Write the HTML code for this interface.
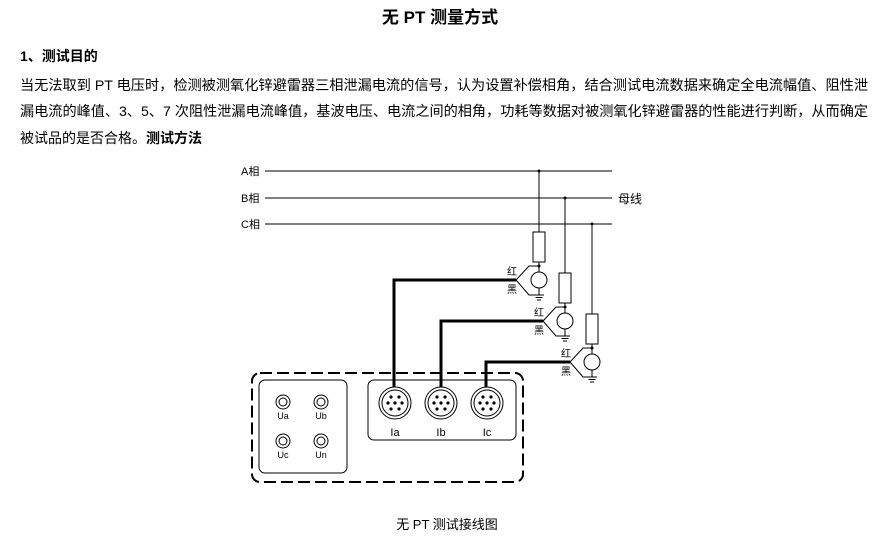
<!DOCTYPE html>
<html><head><meta charset="utf-8"><style>
html,body{margin:0;padding:0;background:#fff;width:878px;height:547px;overflow:hidden}
svg{display:block}
text{font-family:"Liberation Sans","Noto Sans CJK SC","WenQuanYi Zen Hei",sans-serif;fill:#000}
.s{font-family:"Liberation Serif","Noto Serif CJK SC","Noto Sans CJK SC",serif}
</style></head><body>
<svg width="878" height="547" viewBox="0 0 878 547" xmlns="http://www.w3.org/2000/svg">
<text x="440" y="23" font-size="17" font-weight="bold" text-anchor="middle">无 PT 测量方式</text>
<text x="20" y="61" font-size="14" font-weight="bold">1、测试目的</text>
<text x="20" y="90" font-size="14" textLength="848" lengthAdjust="spacingAndGlyphs">当无法取到 PT 电压时，检测被测氧化锌避雷器三相泄漏电流的信号，认为设置补偿相角，结合测试电流数据来确定全电流幅值、阻性泄</text>
<text x="20" y="116" font-size="14" textLength="848" lengthAdjust="spacingAndGlyphs">漏电流的峰值、3、5、7 次阻性泄漏电流峰值，基波电压、电流之间的相角，功耗等数据对被测氧化锌避雷器的性能进行判断，从而确定</text>
<text x="20" y="143" font-size="14">被试品的是否合格。<tspan font-weight="bold">测试方法</tspan></text>

<g stroke="#000" fill="none" stroke-width="1">
<line x1="265" y1="171" x2="612" y2="171"/>
<line x1="265" y1="198" x2="612" y2="198"/>
<line x1="265" y1="224" x2="612" y2="224"/>
</g>
<g font-size="11" class="s">
<text x="241" y="175">A相</text><text x="241" y="202">B相</text><text x="241" y="228">C相</text>
<text x="618" y="203" font-size="12">母线</text>
</g>

<!-- phase branches -->
<g id="ph" stroke="#000" fill="none" stroke-width="1">
</g>
<g stroke="#000" fill="none" stroke-width="1">
<!-- A -->
<line x1="539" y1="171" x2="539" y2="232"/><rect x="533" y="232" width="12" height="30"/>
<line x1="539" y1="262" x2="539" y2="272"/><circle cx="539" cy="280" r="8"/>
<line x1="539" y1="288" x2="539" y2="295"/>
<polyline points="539,266 529,266 516,280 529,295 539,295"/>
<line x1="534" y1="295" x2="544" y2="295"/><line x1="535.5" y1="297.5" x2="542.5" y2="297.5"/><line x1="537" y1="300" x2="541" y2="300"/>
<!-- B -->
<line x1="565" y1="198" x2="565" y2="273"/><rect x="559" y="273" width="12" height="30"/>
<line x1="565" y1="303" x2="565" y2="313"/><circle cx="565" cy="321" r="8"/>
<line x1="565" y1="329" x2="565" y2="336"/>
<polyline points="565,307 556,307 543,321 556,336 565,336"/>
<line x1="560" y1="336" x2="570" y2="336"/><line x1="561.5" y1="338.5" x2="568.5" y2="338.5"/><line x1="563" y1="341" x2="567" y2="341"/>
<!-- C -->
<line x1="592" y1="224" x2="592" y2="314"/><rect x="586" y="314" width="12" height="30"/>
<line x1="592" y1="344" x2="592" y2="354"/><circle cx="592" cy="362" r="8"/>
<line x1="592" y1="370" x2="592" y2="377"/>
<polyline points="592,348 583,348 570,362 583,377 592,377"/>
<line x1="587" y1="377" x2="597" y2="377"/><line x1="588.5" y1="379.5" x2="595.5" y2="379.5"/><line x1="590" y1="382" x2="594" y2="382"/>
</g>
<g fill="#000">
<circle cx="539" cy="171" r="1.5"/><circle cx="565" cy="198" r="1.5"/><circle cx="592" cy="224" r="1.5"/>
<circle cx="539" cy="266" r="1.5"/><circle cx="565" cy="307" r="1.5"/><circle cx="592" cy="348" r="1.5"/>
</g>
<g font-size="10" class="s">
<text x="507" y="275">红</text><text x="507" y="293">黑</text>
<text x="534" y="316">红</text><text x="534" y="334">黑</text>
<text x="561" y="357">红</text><text x="561" y="375">黑</text>
</g>
<g stroke="#000" fill="none" stroke-width="3">
<polyline points="516,280 394,280 394,387"/>
<polyline points="543,321 441,321 441,387"/>
<polyline points="570,362 486,362 486,387"/>
</g>

<!-- instrument -->
<rect x="252" y="373" width="271" height="109" rx="8" fill="none" stroke="#000" stroke-width="2" stroke-dasharray="12,5"/>
<rect x="259" y="380" width="88" height="93" rx="6" fill="none" stroke="#000"/>
<rect x="368" y="380" width="148" height="60" rx="6" fill="none" stroke="#000"/>
<g stroke="#000" fill="none">
<circle cx="283" cy="402" r="7"/><circle cx="283" cy="402" r="4"/>
<circle cx="321" cy="402" r="7"/><circle cx="321" cy="402" r="4"/>
<circle cx="283" cy="441" r="7"/><circle cx="283" cy="441" r="4"/>
<circle cx="321" cy="441" r="7"/><circle cx="321" cy="441" r="4"/>
<circle cx="395" cy="403" r="16"/><circle cx="395" cy="403" r="13"/>
<circle cx="441" cy="403" r="16"/><circle cx="441" cy="403" r="13"/>
<circle cx="487" cy="403" r="16"/><circle cx="487" cy="403" r="13"/>
</g>
<g fill="#000">
<g transform="translate(395,403)"><circle cx="-4" cy="-6" r="1.6"/><circle cx="4" cy="-6" r="1.6"/><circle cx="-7" cy="0" r="1.6"/><circle cx="0" cy="0" r="1.6"/><circle cx="7" cy="0" r="1.6"/><circle cx="-4" cy="6" r="1.6"/><circle cx="4" cy="6" r="1.6"/></g>
<g transform="translate(441,403)"><circle cx="-4" cy="-6" r="1.6"/><circle cx="4" cy="-6" r="1.6"/><circle cx="-7" cy="0" r="1.6"/><circle cx="0" cy="0" r="1.6"/><circle cx="7" cy="0" r="1.6"/><circle cx="-4" cy="6" r="1.6"/><circle cx="4" cy="6" r="1.6"/></g>
<g transform="translate(487,403)"><circle cx="-4" cy="-6" r="1.6"/><circle cx="4" cy="-6" r="1.6"/><circle cx="-7" cy="0" r="1.6"/><circle cx="0" cy="0" r="1.6"/><circle cx="7" cy="0" r="1.6"/><circle cx="-4" cy="6" r="1.6"/><circle cx="4" cy="6" r="1.6"/></g>
</g>
<g font-size="9" class="s" text-anchor="middle">
<text x="283" y="419">Ua</text><text x="321" y="419">Ub</text>
<text x="283" y="458">Uc</text><text x="321" y="458">Un</text>
</g>
<g font-size="11" class="s" text-anchor="middle">
<text x="395" y="436">Ia</text><text x="441" y="436">Ib</text><text x="487" y="436">Ic</text>
</g>
<text x="447" y="529" font-size="13" text-anchor="middle">无 PT 测试接线图</text>
</svg>
</body></html>
